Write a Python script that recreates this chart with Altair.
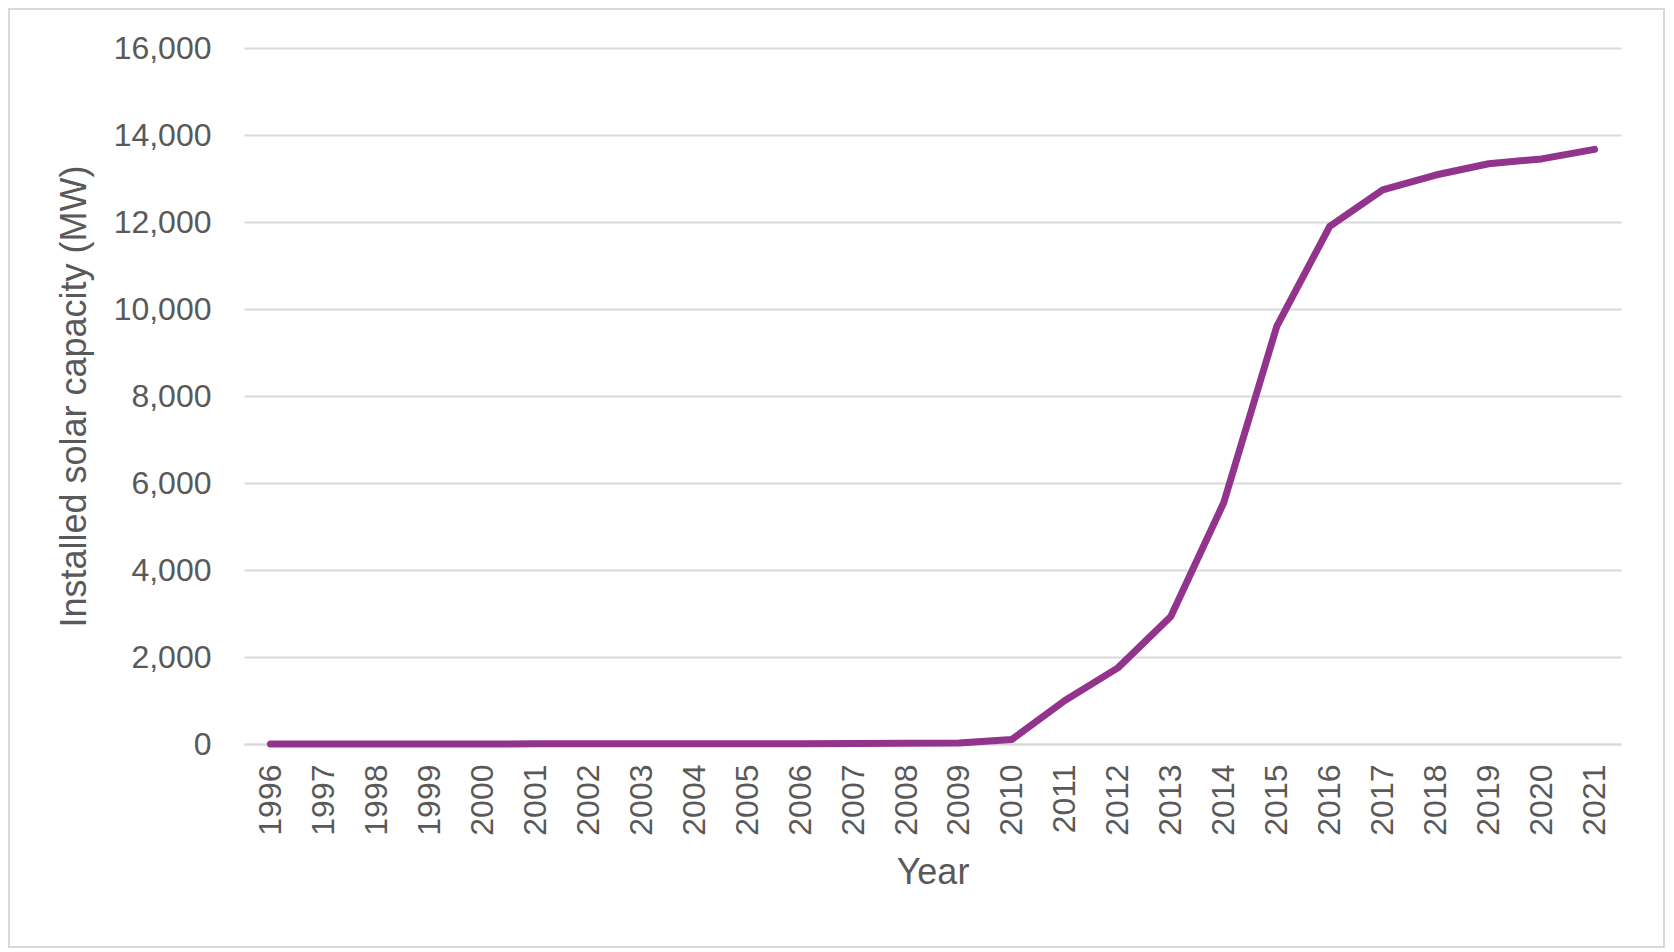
import altair as alt
import pandas as pd

years = [str(y) for y in range(1996, 2022)]
capacity = [2, 2, 2, 2, 2, 3, 3, 3, 4, 4, 5, 12, 15, 22, 105,
            1000, 1750, 2930, 5550, 9600, 11900, 12740, 13080, 13340, 13450, 13670]

df = pd.DataFrame({"Year": years, "Capacity": capacity})

W, H = 1377, 696
PAD_L, PAD_T, PAD_R, PAD_B = 236, 40, 44, 204

FONT = "Liberation Sans"
TXT = "#595959"
GRID = "#d9d9d9"

line = alt.Chart(df).mark_line(
    color="#92348C", strokeWidth=7, strokeCap="round", strokeJoin="round"
).encode(
    x=alt.X("Year:O", sort=years, title="Year",
            scale=alt.Scale(type="point", padding=0.5),
            axis=alt.Axis(labelAngle=-90, labelPadding=20, ticks=False,
                          domain=True, domainColor=GRID, domainWidth=2,
                          grid=False, titlePadding=20)),
    y=alt.Y("Capacity:Q", title="Installed solar capacity (MW)",
            scale=alt.Scale(domain=[0, 16000], nice=False),
            axis=alt.Axis(values=list(range(0, 16001, 2000)), format=",.0f",
                          ticks=False, domain=False, grid=True,
                          gridColor=GRID, gridWidth=2, labelPadding=33,
                          titlePadding=20)),
)

border = alt.Chart(df).mark_rect(fill=None, stroke=GRID, strokeWidth=2).encode(
    x=alt.value(-PAD_L + 1), x2=alt.value(W + PAD_R - 1),
    y=alt.value(-PAD_T + 1), y2=alt.value(H + PAD_B - 1),
)

chart = alt.layer(border, line).properties(
    width=W, height=H,
    background="white",
    autosize=alt.AutoSizeParams(type="none"),
    padding={"left": PAD_L, "top": PAD_T, "right": PAD_R, "bottom": PAD_B},
).configure_view(stroke=None).configure_axis(
    labelFont=FONT, titleFont=FONT, labelColor=TXT, titleColor=TXT,
    labelFontSize=32, titleFontSize=36, titleFontWeight="normal",
)

chart.save("out.html", embed_options={"renderer": "svg", "actions": False})
